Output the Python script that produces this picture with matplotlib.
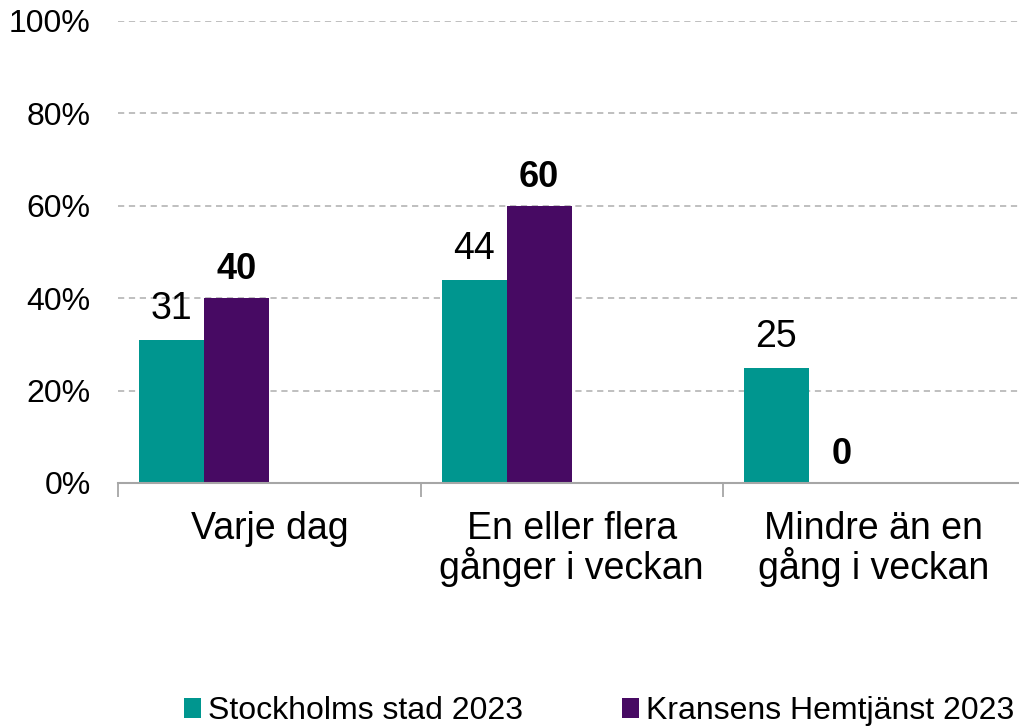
import matplotlib
matplotlib.use("Agg")
import matplotlib.pyplot as plt
import numpy as np
from matplotlib.patches import Patch

plt.rcParams['font.family'] = ['Liberation Sans', 'DejaVu Sans']

categories = ["Varje dag", "En eller flera\ngånger i veckan", "Mindre än en\ngång i veckan"]
stockholm = [31, 44, 25]
kransen = [40, 60, 0]
series_names = ["Stockholms stad 2023", "Kransens Hemtjänst 2023"]
yticks = [0, 20, 40, 60, 80, 100]
ytick_labels = ["0%", "20%", "40%", "60%", "80%", "100%"]

teal = "#00968F"
purple = "#470A63"

fig = plt.figure(figsize=(10.2, 7.28), dpi=100)
W, H = 1020, 728
left_px, right_px = 118.3, 1025.0
bottom_px, top_px = 483.0, 21.0
ax = fig.add_axes([left_px / W, (H - bottom_px) / H,
                   (right_px - left_px) / W, (bottom_px - top_px) / H])

x = np.arange(len(categories))
w = 65 / 302.2
b1 = ax.bar(x - 1.5 * w, stockholm, width=w, color=teal, zorder=3)
b2 = ax.bar(x - 0.5 * w, kransen, width=w, color=purple, zorder=3)

for rect, v in zip(b1, stockholm):
    ax.annotate(f"{v}", (rect.get_x() + rect.get_width() / 2, v),
                xytext=(0, 9), textcoords="offset points",
                ha="center", va="bottom", fontsize=27, color="black")
for rect, v in zip(b2, kransen):
    ax.annotate(f"{v}", (rect.get_x() + rect.get_width() / 2, v),
                xytext=(0, 8), textcoords="offset points",
                ha="center", va="bottom", fontsize=26, fontweight="bold", color="black")

ax.set_xlim(-0.5, 2.5)
ax.set_ylim(0, 100)
ax.set_yticks(yticks)
ax.set_yticklabels(ytick_labels, fontsize=23)
ax.tick_params(axis="y", length=0, pad=20)

ax.set_xticks(x)
ax.set_xticklabels(categories, fontsize=27, linespacing=1.0)
ax.tick_params(axis="x", which="major", length=0, pad=20)
ax.set_xticks(np.arange(len(categories) + 1) - 0.5, minor=True)
ax.tick_params(axis="x", which="minor", length=10, width=1.3, color="#A6A6A6", direction="out")

for s in ["left", "right", "top"]:
    ax.spines[s].set_visible(False)
ax.spines["bottom"].set_color("#A6A6A6")
ax.spines["bottom"].set_linewidth(1.5)
ax.spines["bottom"].set_zorder(4)

for yv in yticks[1:]:
    ax.axhline(yv, color="#BFBFBF", lw=1.4, dashes=(3.2, 2.4), zorder=1)

handles = [Patch(facecolor=teal), Patch(facecolor=purple)]
fig.legend(handles, series_names, loc="center", bbox_to_anchor=(599 / W, (H - 711) / H),
           ncol=2, frameon=False, fontsize=23, handlelength=0.53, handleheight=0.6,
           handletextpad=0.22, columnspacing=3.1, borderpad=0, borderaxespad=0)

fig.savefig("out.png", dpi=100)
